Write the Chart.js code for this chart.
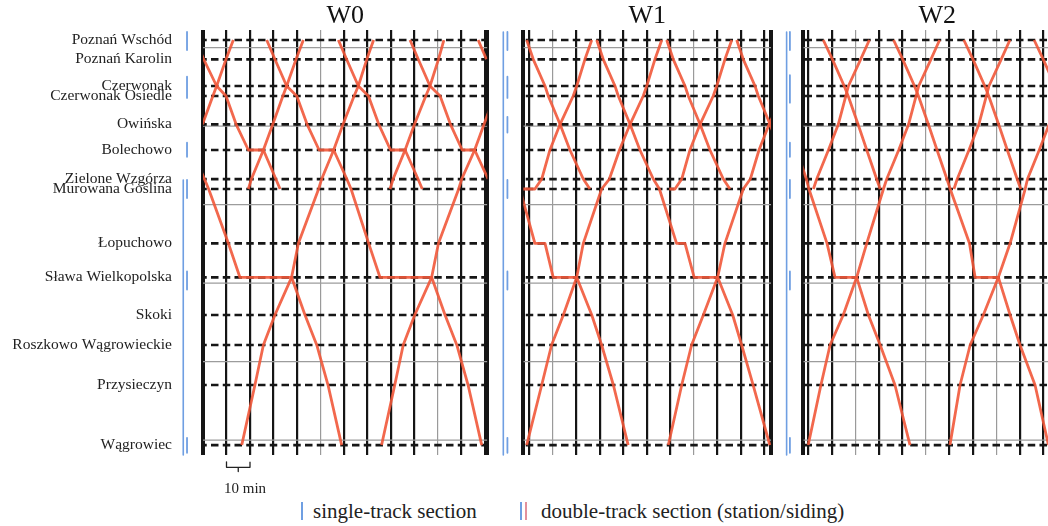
<!DOCTYPE html>
<html>
<head>
<meta charset="utf-8">
<script src="https://cdn.jsdelivr.net/npm/chart.js@4.4.0/dist/chart.umd.min.js"></script>
<style>
  html, body { margin: 0; padding: 0; background: #fff; overflow: hidden; width: 1048px; height: 526px; }
  body { position: relative; font-family: 'Liberation Serif', 'Times New Roman', serif; }
  canvas { position: absolute; top: 0; }
  .note { position: absolute; color: #222; white-space: nowrap; }
  .bar { position: absolute; width: 2px; top: 502px; height: 18px; }
</style>
</head>
<body>
<canvas id="w0" width="495" height="480" style="left:0px"></canvas>
<canvas id="w1" width="295" height="480" style="left:490px"></canvas>
<canvas id="w2" width="310" height="480" style="left:775px"></canvas>

<div class="note" style="left:224px; top:479px; font-size:15px; line-height:18px;">10 min</div>
<div class="bar" style="left:301px; background:#6f9fe2;"></div>
<div class="note" style="left:313px; top:499px; font-size:21px; line-height:24px;">single-track section</div>
<div class="bar" style="left:520px; background:#6f9fe2;"></div>
<div class="bar" style="left:525px; background:#e3919c;"></div>
<div class="note" style="left:541px; top:499px; font-size:21px; line-height:24px;">double-track section (station/siding)</div>

<script>
// Stations and their position along the line (km)
const stations = ['Poznań Wschód', 'Poznań Karolin', 'Czerwonak', 'Czerwonak Osiedle', 'Owińska', 'Bolechowo',
  'Zielone Wzgórza', 'Murowana Goślina', 'Łopuchowo', 'Sława Wielkopolska', 'Skoki', 'Roszkowo Wągrowieckie',
  'Przysieczyn', 'Wągrowiec'];
const stationKm = [9.02, 11.48, 14.88, 16.15, 19.76, 23.03, 26.73, 28.0, 34.92, 39.25, 44.05, 47.87, 52.97, 60.62];
const kmGrid = [10, 20, 30, 40, 50, 60];

// Train paths: [minute, station index]
const w0Trains = [
  [[-4.8, 5], [0.6, 6], [2.4, 7], [10.8, 8], [15.7, 9], [37.7, 9], [43.4, 10], [48.4, 11], [53.2, 12], [59.0, 13]],
  [[-3.2, 0], [0.3, 1], [5.8, 2], [9.8, 3], [14.1, 4], [19.3, 5], [25.7, 5], [31.0, 6], [32.8, 7]],
  [[27.1, 0], [30.6, 1], [35.6, 2], [39.9, 3], [44.3, 4], [49.4, 5], [55.6, 5], [61.2, 6], [63.0, 7], [70.5, 8], [75.3, 9], [97.3, 9], [103.0, 10], [108.0, 11], [112.8, 12], [118.6, 13]],
  [[57.6, 0], [61.1, 1], [66.1, 2], [70.4, 3], [74.8, 4], [79.8, 5], [86.0, 5], [91.5, 6], [93.3, 7]],
  [[88.1, 0], [91.6, 1], [96.6, 2], [100.9, 3], [105.3, 4], [110.3, 5], [115.6, 5], [121.3, 6]],
  [[117.1, 0], [120.6, 1]],
  [[-4.1, 5], [-0.2, 4], [4.2, 3], [5.8, 2], [9.8, 1], [12.9, 0]],
  [[19.3, 7], [20.6, 6], [25.7, 5], [29.7, 4], [34.0, 3], [35.6, 2], [39.6, 1], [42.7, 0]],
  [[16.5, 13], [22.1, 12], [25.7, 11], [30.6, 10], [37.7, 9], [40.6, 8], [49.2, 7], [50.5, 6], [55.6, 5], [59.6, 4], [64.3, 3], [66.1, 2], [69.7, 1], [72.6, 0]],
  [[79.6, 7], [80.9, 6], [86.0, 5], [90.0, 4], [94.8, 3], [96.6, 2], [100.2, 1], [102.5, 0]],
  [[76.0, 13], [81.6, 12], [85.2, 11], [90.1, 10], [97.3, 9], [100.2, 8], [108.8, 7], [110.1, 6], [115.6, 5], [119.6, 4], [124.0, 3]]
];
const w1Trains = [
  [[-4.1, 7], [2.3, 8], [6.6, 8], [10.1, 9], [20.1, 9], [26.5, 10], [30.7, 11], [35.7, 12], [42.0, 13]],
  [[-1.2, 0], [1.6, 1], [6.6, 2], [8.0, 3], [13.0, 4], [17.2, 5], [22.9, 6], [25.7, 7]],
  [[28.6, 0], [31.4, 1], [36.4, 2], [37.8, 3], [42.8, 4], [47.0, 5], [52.7, 6], [55.3, 7], [62.6, 8], [66.2, 8], [70.1, 9], [80.1, 9], [86.5, 10], [90.3, 11], [95.2, 12], [102.3, 13]],
  [[58.4, 0], [61.2, 1], [66.2, 2], [67.6, 3], [72.6, 4], [76.8, 5], [82.5, 6], [85.3, 7]],
  [[88.2, 0], [91.0, 1], [96.0, 2], [97.4, 3], [102.4, 4], [106.6, 5]],
  [[-3.0, 7], [2.3, 7], [5.2, 6], [8.7, 5], [13.0, 4], [18.6, 3], [20.1, 2], [23.6, 1], [26.5, 0]],
  [[-1.2, 13], [5.2, 12], [9.4, 11], [14.4, 10], [20.1, 9], [22.9, 8], [30.7, 7], [34.0, 6], [38.3, 5], [42.8, 4], [48.4, 3], [49.9, 2], [53.4, 1], [56.3, 0]],
  [[59.5, 7], [61.9, 7], [64.8, 6], [68.3, 5], [72.6, 4], [78.2, 3], [79.7, 2], [83.2, 1], [86.1, 0]],
  [[59.1, 13], [64.8, 12], [69.0, 11], [74.0, 10], [80.1, 9], [83.2, 8], [91.0, 7], [94.0, 6], [97.7, 5], [102.0, 4], [107.6, 3]]
];
const w2Trains = [
  [[-5.0, 5], [-0.8, 6], [0.3, 7], [8.0, 8], [11.4, 9], [20.6, 9], [25.6, 10], [30.6, 11], [36.9, 12], [43.3, 13]],
  [[6.4, 0], [10.3, 1], [15.3, 2], [17.0, 3], [21.2, 4], [24.9, 5], [29.1, 6], [30.6, 7]],
  [[36.3, 0], [40.2, 1], [45.2, 2], [46.9, 3], [51.1, 4], [54.8, 5], [59.0, 6], [60.4, 7], [68.6, 8], [71.0, 9], [80.9, 9], [85.9, 10], [90.1, 11], [96.5, 12], [102.2, 13]],
  [[66.2, 0], [70.1, 1], [75.1, 2], [76.8, 3], [81.0, 4], [84.7, 5], [88.9, 6], [90.4, 7]],
  [[96.1, 0], [100.0, 1], [105.0, 2]],
  [[2.2, 7], [3.6, 6], [8.6, 5], [12.8, 4], [16.0, 3], [17.1, 2], [22.3, 1], [26.0, 0]],
  [[0.0, 13], [5.4, 12], [9.3, 11], [14.9, 10], [20.6, 9], [24.9, 8], [32.0, 7], [33.4, 6], [38.5, 5], [42.7, 4], [45.9, 3], [47.0, 2], [52.2, 1], [55.9, 0]],
  [[62.0, 7], [63.4, 6], [68.4, 5], [72.6, 4], [75.8, 3], [76.9, 2], [82.1, 1], [85.8, 0]],
  [[60.3, 13], [64.6, 12], [68.9, 11], [74.5, 10], [80.9, 9], [85.9, 8], [92.3, 7], [93.3, 6], [98.3, 5], [102.5, 4]]
];

// Minute lines (vertical) and the ones drawn thin grey
const w0Ticks = [0, 10, 20, 30, 40, 50, 60, 70, 80, 90, 100, 110, 120, 121];
const w1Ticks = [-2.64, 0, 10, 20, 30, 40, 50, 60, 70, 80, 90, 100, 102.8];
const w2Ticks = [-2.1, 0, 10, 20, 30, 40, 50, 60, 70, 80, 90, 100, 110, 111.8];
const w0Grey = [50, 100];
const w1Grey = [10, 70];
const w2Grey = [20, 50, 80, 110];

// Track layout: km ranges of single-track line and double-track stations
const w0Single = [[26.85, 61.87]];
const w0Double = [[8.0, 10.3], [13.7, 16.4], [22.1, 23.9], [26.85, 29.15], [38.5, 40.8], [59.7, 61.6]];
const w1Single = [[8.0, 61.87]];
const w1Double = [[8.0, 10.3], [13.7, 16.4], [18.8, 20.8], [26.85, 29.15], [38.5, 40.8], [59.7, 61.6]];
const w2Single = [[8.0, 61.87]];
const w2Double = [[8.0, 10.3], [13.5, 17.0], [22.1, 23.9], [26.85, 29.15], [38.5, 40.8], [59.7, 61.6]];

// 10 minute scale bracket under W0
const scaleBar = [[10, 62.75], [10, 63.45], [15, 63.45], [15, 64.0], [15, 63.45], [20, 63.45], [20, 62.75]];

Chart.defaults.font.family = "'Liberation Serif', 'Times New Roman', serif";

function line(data, color, width, extra) {
  return Object.assign({
    data: data, borderColor: color, borderWidth: width, showLine: true,
    pointRadius: 0, tension: 0, borderJoinStyle: 'round'
  }, extra || {});
}

function makeChart(p) {
  const datasets = [];
  p.trains.forEach(tr => {
    datasets.push(line(tr.map(([t, s]) => ({ x: t, y: stationKm[s] })), 'rgba(241,88,58,0.9)', 2.8, { order: 0 }));
  });
  stationKm.forEach(km => {
    datasets.push(line([{ x: p.min, y: km }, { x: p.max, y: km }], '#161616', 2.7,
      { borderDash: [7.5, 4.25], borderDashOffset: p.dashOffset, order: 1 }));
  });
  kmGrid.forEach(km => {
    datasets.push(line([{ x: p.min, y: km }, { x: p.max, y: km }], '#9c9c9c', 1.2, { order: 2 }));
  });
  p.single.forEach(([a, b]) => {
    datasets.push(line([{ x: p.singleX, y: a }, { x: p.singleX, y: b }], '#6f9fe2', 1.6, { clip: false, order: 3 }));
  });
  p.double.forEach(([a, b]) => {
    datasets.push(line([{ x: p.doubleX, y: a }, { x: p.doubleX, y: b }], '#6f9fe2', 1.8, { clip: false, order: 3 }));
  });
  if (p.bracket) {
    datasets.push(line(p.bracket.map(([x, y]) => ({ x, y })), '#222', 1.3, { clip: false, order: 3 }));
  }

  new Chart(document.getElementById(p.id), {
    type: 'scatter',
    data: { datasets },
    options: {
      responsive: false,
      animation: false,
      layout: { padding: p.pad },
      plugins: { legend: { display: false }, tooltip: { enabled: false } },
      scales: {
        x: {
          type: 'linear',
          position: 'top',
          min: p.min,
          max: p.max,
          afterBuildTicks: s => { s.ticks = p.ticks.map(v => ({ value: v })); },
          afterFit: s => { s.height = 30; },
          ticks: { display: false },
          border: { display: false },
          grid: {
            drawTicks: false,
            color: c => p.grey.includes(c.tick.value) ? '#9a9a9a' : '#151515',
            lineWidth: c => {
              if (c.index === 0 || c.index === p.ticks.length - 1) return 4;
              return p.grey.includes(c.tick.value) ? 1.2 : 2.2;
            }
          },
          title: {
            display: true, text: p.title, color: '#111',
            font: { size: 26 }, padding: { top: 1, bottom: 0 }
          }
        },
        y: {
          type: 'linear',
          reverse: true,
          min: 7.745,
          max: 61.885,
          display: p.labels,
          afterBuildTicks: s => { s.ticks = stationKm.map(v => ({ value: v })); },
          afterFit: s => {
            if (!p.labels) return;
            s.width = 203;
            s.paddingTop = 0;
            s.paddingBottom = 0;
          },
          ticks: {
            autoSkip: false, padding: 23, color: '#222', font: { size: 15.5 },
            callback: (v, i) => stations[i]
          },
          grid: { display: false },
          border: { display: false }
        }
      }
    }
  });
}

makeChart({
  id: 'w0', title: 'W0', trains: w0Trains, ticks: w0Ticks, grey: w0Grey, min: 0, max: 121,
  dashOffset: 3.75, single: w0Single, double: w0Double, singleX: -8.4, doubleX: -6.8,
  labels: true, bracket: scaleBar, pad: { left: 0, right: 7.65, top: 0, bottom: 25 }
});
makeChart({
  id: 'w1', title: 'W1', trains: w1Trains, ticks: w1Ticks, grey: w1Grey, min: -2.64, max: 102.8,
  dashOffset: 9.3, single: w1Single, double: w1Double, singleX: -11.15, doubleX: -9.4,
  labels: false, pad: { left: 33.3, right: 14, top: 0, bottom: 25 }
});
makeChart({
  id: 'w2', title: 'W2', trains: w2Trains, ticks: w2Ticks, grey: w2Grey, min: -2.1, max: 111.8,
  dashOffset: 10.56, single: w2Single, double: w2Double, singleX: -9.2, doubleX: -7.8,
  labels: false, pad: { left: 28.3, right: 14, top: 0, bottom: 25 }
});
</script>
</body>
</html>
